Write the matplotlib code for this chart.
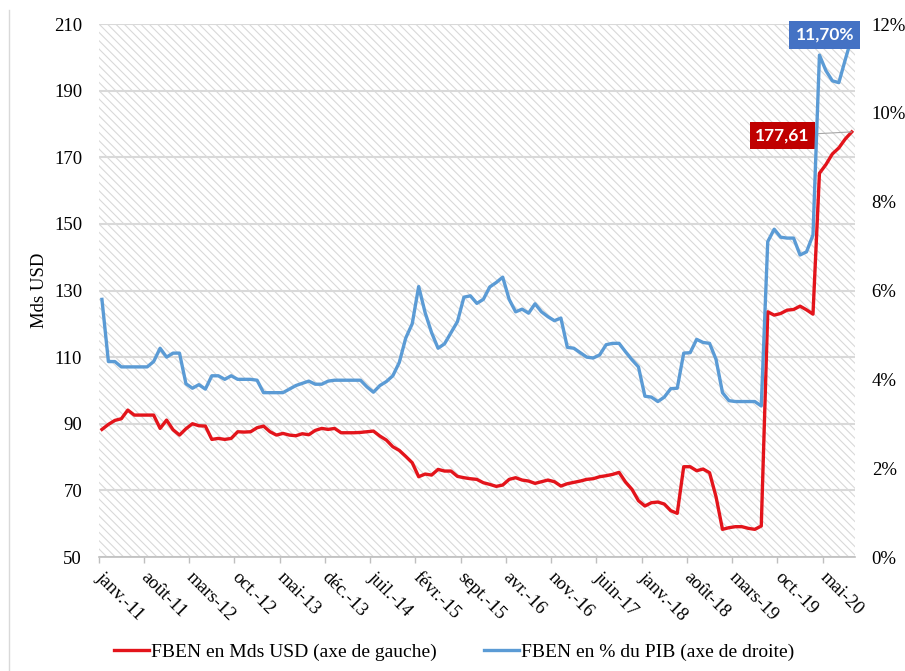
import numpy as np
import matplotlib
matplotlib.use('Agg')
import matplotlib.pyplot as plt
from matplotlib.patches import Rectangle
from matplotlib.lines import Line2D

# monthly data, janv. 2011 -> sept. 2020
fben_usd = [88.3, 89.8, 91.0, 91.5, 94.1, 92.6, 92.6, 92.6, 92.6, 88.6,
            91.1, 88.2, 86.6, 88.5, 90.0, 89.4, 89.3, 85.3, 85.6, 85.3,
            85.6, 87.6, 87.5, 87.6, 88.8, 89.3, 87.6, 86.6, 87.1, 86.6,
            86.4, 87.0, 86.7, 88.0, 88.6, 88.3, 88.6, 87.3, 87.3, 87.3,
            87.4, 87.6, 87.8, 86.3, 85.1, 83.1, 82.0, 80.2, 78.3, 74.1,
            74.9, 74.6, 76.3, 75.8, 75.8, 74.2, 73.8, 73.5, 73.3, 72.3,
            71.8, 71.2, 71.6, 73.3, 73.8, 73.1, 72.8, 72.1, 72.6, 73.1,
            72.6, 71.3, 72.0, 72.4, 72.8, 73.3, 73.5, 74.1, 74.4, 74.8,
            75.4, 72.5, 70.3, 66.9, 65.3, 66.3, 66.5, 65.9, 63.9, 63.1,
            77.1, 77.1, 75.9, 76.4, 75.3, 68.1, 58.3, 58.8, 59.1, 59.1,
            58.6, 58.3, 59.3, 123.6, 122.6, 123.1, 124.1, 124.3, 125.3, 124.2,
            122.9, 165.2, 167.8, 171.0, 172.8, 175.5, 177.61]

fben_pib = [5.80, 4.40, 4.40, 4.28, 4.28, 4.28, 4.28, 4.28, 4.40, 4.70,
            4.50, 4.59, 4.59, 3.90, 3.80, 3.88, 3.78, 4.08, 4.08, 4.00,
            4.08, 4.00, 4.00, 4.00, 3.98, 3.70, 3.70, 3.70, 3.70, 3.78,
            3.86, 3.91, 3.96, 3.89, 3.89, 3.96, 3.98, 3.98, 3.98, 3.98,
            3.98, 3.83, 3.71, 3.86, 3.95, 4.08, 4.38, 4.93, 5.25, 6.09,
            5.50, 5.05, 4.70, 4.80, 5.05, 5.30, 5.85, 5.88, 5.71, 5.80,
            6.08, 6.18, 6.30, 5.80, 5.52, 5.58, 5.49, 5.70, 5.52, 5.41,
            5.32, 5.38, 4.72, 4.70, 4.60, 4.50, 4.48, 4.55, 4.78, 4.81,
            4.81, 4.62, 4.44, 4.28, 3.62, 3.60, 3.50, 3.60, 3.79, 3.80,
            4.59, 4.60, 4.90, 4.83, 4.81, 4.45, 3.70, 3.52, 3.50, 3.50,
            3.50, 3.50, 3.40, 7.10, 7.38, 7.20, 7.18, 7.18, 6.80, 6.87,
            7.25, 11.30, 10.95, 10.72, 10.68, 11.20, 11.70]

month_labels = ['janv.-11', 'août-11', 'mars-12', 'oct.-12', 'mai-13', 'déc.-13',
                'juil.-14', 'févr.-15', 'sept.-15', 'avr.-16', 'nov.-16', 'juin-17',
                'janv.-18', 'août-18', 'mars-19', 'oct.-19', 'mai-20']
left_ticks = [50, 70, 90, 110, 130, 150, 170, 190, 210]
right_ticks = [0, 2, 4, 6, 8, 10, 12]
right_labels = ['0%', '2%', '4%', '6%', '8%', '10%', '12%']

label_usd = 'FBEN en Mds USD (axe de gauche)'
label_pib = 'FBEN en % du PIB (axe de droite)'

RED = '#E3141B'
BLUE = '#5B9BD5'
GRID = '#D9D9D9'

plt.rcParams['font.family'] = ['Liberation Serif', 'DejaVu Serif']
plt.rcParams['hatch.linewidth'] = 0.8

fig = plt.figure(figsize=(9.05, 6.71), dpi=100)
ax = fig.add_axes([98.7 / 905, 1 - 557 / 671, (855 - 98.7) / 905, (557 - 24) / 671])
ax.patch.set_visible(False)

x = np.arange(len(fben_usd))

# hatched background
bg = Rectangle((0, 0), 1, 1, transform=ax.transAxes, facecolor='white',
               edgecolor='#D9D9D9', hatch='\\\\\\\\', lw=0, zorder=0)
ax.add_patch(bg)

ax.set_xlim(-0.5, len(x) - 0.5)
ax.set_ylim(50, 210)
ax.set_yticks(left_ticks)
ax.grid(axis='y', color=GRID, lw=1.5, zorder=1)
ax.set_axisbelow(True)

ax.plot(x, fben_usd, color=RED, lw=2.4, zorder=4, solid_joinstyle='round')

ax2 = ax.twinx()
ax2.set_ylim(0, 12)
ax2.set_yticks(right_ticks)
ax2.set_yticklabels(right_labels)
ax2.plot(x, fben_pib, color=BLUE, lw=2.4, zorder=3, solid_joinstyle='round')

for a in (ax, ax2):
    for s in a.spines.values():
        s.set_visible(False)
ax.spines['bottom'].set_visible(True)
ax.spines['bottom'].set_color('#BFBFBF')
ax.spines['bottom'].set_linewidth(1.2)

ax.tick_params(axis='y', length=0, pad=12, labelsize=13.5)
ax2.tick_params(axis='y', length=0, pad=12, labelsize=13.5)

ax.set_xticks(np.arange(len(month_labels)) * 7 - 0.5)
ax.set_xticklabels(month_labels, rotation=-45, ha='left', va='center',
                   rotation_mode='anchor', fontsize=13.5)
ax.tick_params(axis='x', length=4, width=1, color='#BFBFBF', pad=9)

fig.text(40 / 905, 1 - 290 / 671, 'Mds USD', rotation=90, ha='center',
         va='center', fontsize=13.5)

# value labels
ax.annotate('177,61', xy=(x[-1], fben_usd[-1]), xytext=(-50, -2.6),
            textcoords='offset points', ha='center', va='center',
            fontsize=12.5, fontweight='bold', color='white', family='Lato',
            bbox=dict(boxstyle='square,pad=0.32', fc='#C00000', ec='none'),
            arrowprops=dict(arrowstyle='-', color='#A6A6A6', lw=0.8,
                            shrinkA=0, shrinkB=0), zorder=6)
ax2.annotate('11,70%', xy=(x[-1], fben_pib[-1]), xytext=(-19.5, 1.7),
             textcoords='offset points', ha='center', va='center',
             fontsize=12.5, fontweight='bold', color='white', family='Lato',
             bbox=dict(boxstyle='square,pad=0.35', fc='#4472C4', ec='none'),
             zorder=6)

handles = [Line2D([], [], color=RED, lw=2.4), Line2D([], [], color=BLUE, lw=2.4)]
fig.legend(handles, [label_usd, label_pib], loc='center', ncol=2,
           bbox_to_anchor=(454 / 905, 1 - 652 / 671), frameon=False,
           fontsize=14, handlelength=1.8, handletextpad=0.1,
           columnspacing=2.4)

fig.add_artist(Line2D([9 / 905, 9 / 905], [0, 1 - 10 / 671], color='#D9D9D9', lw=1))

fig.savefig('out.png', dpi=100)
